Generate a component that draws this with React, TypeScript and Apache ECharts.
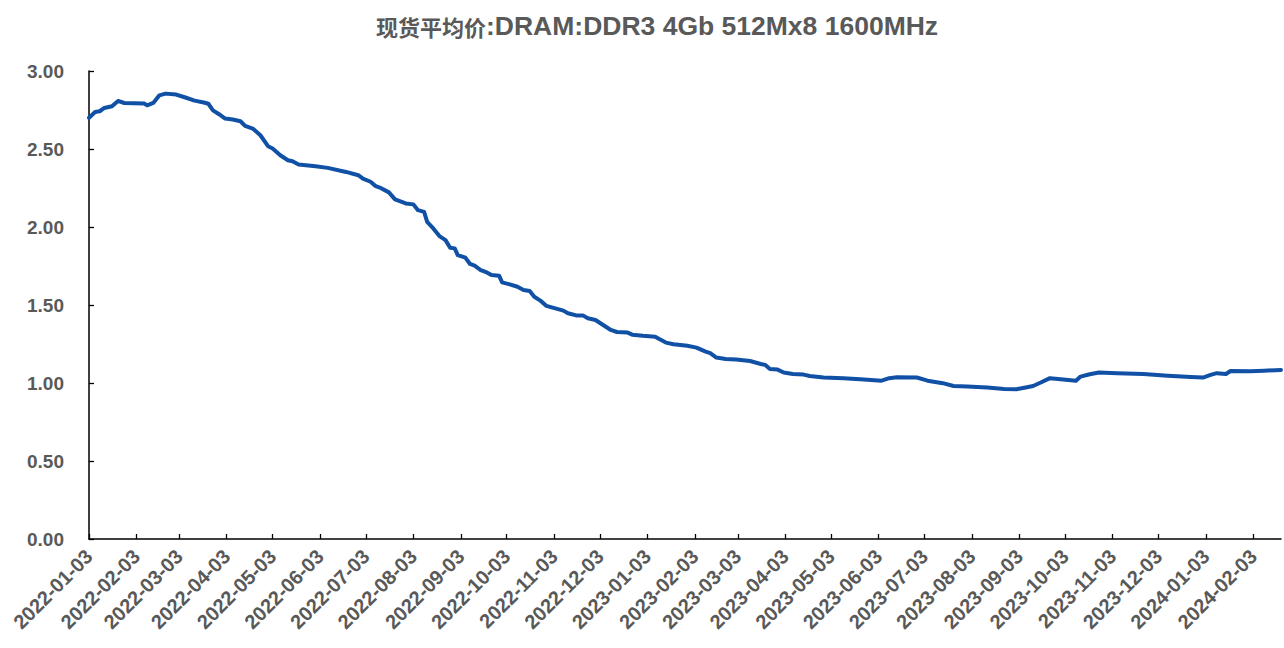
import React, { useEffect, useRef } from "react";
import * as echarts from "echarts";

const TITLE_CN = "现货平均价";
const TITLE_EN = ":DRAM:DDR3 4Gb 512Mx8 1600MHz";
const START_DATE = "2022-01-03";
const END_DATE = "2024-02-21";

const dates: string[] = [
  "2022-01-03", "2022-01-07", "2022-01-10", "2022-01-13", "2022-01-18", "2022-01-22", "2022-01-26",
  "2022-02-08", "2022-02-10", "2022-02-14", "2022-02-18", "2022-02-22", "2022-03-01", "2022-03-07",
  "2022-03-13", "2022-03-19", "2022-03-22", "2022-03-25", "2022-03-29", "2022-04-02", "2022-04-07",
  "2022-04-12", "2022-04-15", "2022-04-20", "2022-04-25", "2022-04-30", "2022-05-03", "2022-05-08",
  "2022-05-13", "2022-05-16", "2022-05-20", "2022-05-31", "2022-06-08", "2022-06-20", "2022-06-28",
  "2022-07-01", "2022-07-06", "2022-07-09", "2022-07-12", "2022-07-18", "2022-07-22", "2022-07-29",
  "2022-08-03", "2022-08-06", "2022-08-10", "2022-08-12", "2022-08-16", "2022-08-20", "2022-08-24",
  "2022-08-27", "2022-08-30", "2022-09-01", "2022-09-06", "2022-09-09", "2022-09-12", "2022-09-16",
  "2022-09-20", "2022-09-23", "2022-09-28", "2022-09-30", "2022-10-05", "2022-10-10", "2022-10-14",
  "2022-10-18", "2022-10-21", "2022-10-25", "2022-10-29", "2022-11-02", "2022-11-09", "2022-11-12",
  "2022-11-18", "2022-11-22", "2022-11-25", "2022-11-30", "2022-12-05", "2022-12-10", "2022-12-14",
  "2022-12-21", "2022-12-24", "2022-12-31", "2023-01-08", "2023-01-11", "2023-01-15", "2023-01-20",
  "2023-01-29", "2023-02-04", "2023-02-10", "2023-02-13", "2023-02-17", "2023-02-23", "2023-03-02",
  "2023-03-11", "2023-03-18", "2023-03-21", "2023-03-24", "2023-03-29", "2023-04-02", "2023-04-08",
  "2023-04-15", "2023-04-19", "2023-04-28", "2023-05-11", "2023-05-22", "2023-06-05", "2023-06-10",
  "2023-06-15", "2023-06-28", "2023-07-05", "2023-07-15", "2023-07-22", "2023-07-31", "2023-08-13",
  "2023-08-24", "2023-09-01", "2023-09-08", "2023-09-12", "2023-09-17", "2023-09-23", "2023-09-30",
  "2023-10-10", "2023-10-13", "2023-10-19", "2023-10-25", "2023-11-06", "2023-11-23", "2023-12-09",
  "2023-12-24", "2024-01-01", "2024-01-06", "2024-01-10", "2024-01-16", "2024-01-19", "2024-02-01",
  "2024-02-10", "2024-02-21",
];

const prices: number[] = [
  2.70, 2.737, 2.742, 2.763, 2.774, 2.808, 2.795,
  2.791, 2.78, 2.795, 2.844, 2.855, 2.849, 2.83,
  2.81, 2.798, 2.79, 2.748, 2.723, 2.695, 2.689,
  2.678, 2.648, 2.631, 2.588, 2.518, 2.503, 2.46,
  2.428, 2.422, 2.401, 2.39, 2.379, 2.353, 2.332,
  2.31, 2.29, 2.264, 2.253, 2.222, 2.177, 2.151,
  2.145, 2.108, 2.097, 2.033, 1.991, 1.942, 1.916,
  1.867, 1.863, 1.82, 1.803, 1.763, 1.752, 1.724,
  1.709, 1.692, 1.688, 1.645, 1.632, 1.617, 1.596,
  1.59, 1.553, 1.528, 1.494, 1.483, 1.464, 1.447,
  1.432, 1.432, 1.415, 1.404, 1.372, 1.34, 1.327,
  1.323, 1.31, 1.303, 1.297, 1.28, 1.259, 1.248,
  1.239, 1.227, 1.201, 1.191, 1.163, 1.154, 1.15,
  1.141, 1.122, 1.116, 1.09, 1.086, 1.067, 1.058,
  1.054, 1.045, 1.035, 1.031, 1.024, 1.015, 1.031,
  1.037, 1.035, 1.015, 0.999, 0.981, 0.977, 0.971,
  0.962, 0.96, 0.973, 0.981, 1.003, 1.031, 1.024,
  1.015, 1.041, 1.056, 1.067, 1.063, 1.058, 1.047,
  1.039, 1.035, 1.052, 1.063, 1.058, 1.077, 1.076,
  1.079, 1.084,
];

function buildDays(start: string, end: string): string[] {
  const out: string[] = [];
  const d = new Date(start + "T00:00:00Z");
  const e = new Date(end + "T00:00:00Z");
  while (d.getTime() <= e.getTime()) {
    out.push(d.toISOString().slice(0, 10));
    d.setUTCDate(d.getUTCDate() + 1);
  }
  return out;
}

const TEXT_COLOR = "#595959";
const FONT = "'Liberation Sans', Arial, sans-serif";

export default function App() {
  const ref = useRef<HTMLDivElement>(null);
  useEffect(() => {
    if (!ref.current) return;
    const chart = echarts.init(ref.current, undefined, { renderer: "svg" });
    const categories = buildDays(START_DATE, END_DATE);
    const isTick = (_i: number, v: string) => v.slice(8) === "03";
    chart.setOption({
      animation: false,
      backgroundColor: "#ffffff",
      title: {
        text: `{cn|${TITLE_CN}}{en|${TITLE_EN}}`,
        left: 371,
        top: 7,
        textStyle: {
          fontFamily: FONT,
          fontSize: 25,
          fontWeight: "bold",
          color: TEXT_COLOR,
          rich: {
            cn: { fontFamily: "'Noto Sans CJK SC', sans-serif", fontSize: 22, fontWeight: "bold", color: TEXT_COLOR },
            en: { fontFamily: FONT, fontSize: 26.5, fontWeight: "bold", color: TEXT_COLOR },
          },
        },
      },
      grid: { left: 89, right: 3, top: 71, bottom: 109, containLabel: false },
      xAxis: {
        type: "category",
        data: categories,
        boundaryGap: false,
        axisLine: { lineStyle: { color: "#000", width: 1.5 } },
        axisTick: { inside: true, length: 5, interval: isTick, lineStyle: { color: "#000", width: 1.3 } },
        axisLabel: {
          interval: isTick,
          rotate: 45,
          margin: 14,
          fontFamily: FONT,
          fontSize: 20,
          fontWeight: "bold",
          color: TEXT_COLOR,
        },
        splitLine: { show: false },
      },
      yAxis: {
        type: "value",
        min: 0,
        max: 3,
        interval: 0.5,
        axisLine: { show: true, lineStyle: { color: "#000", width: 1.5 } },
        axisTick: { show: true, inside: true, length: 5, lineStyle: { color: "#000", width: 1.3 } },
        axisLabel: {
          formatter: (v: number) => v.toFixed(2),
          margin: 25,
          fontFamily: FONT,
          fontSize: 19,
          fontWeight: "bold",
          color: TEXT_COLOR,
        },
        splitLine: { show: false },
      },
      series: [
        {
          type: "line",
          data: dates.map((d, i) => [d, prices[i]]),
          showSymbol: false,
          symbol: "none",
          lineStyle: { color: "#1050A5", width: 4, cap: "round", join: "round" },
        },
      ],
    });
    return () => chart.dispose();
  }, []);
  return (
    <div
      ref={ref}
      style={{ position: "fixed", left: 0, top: 0, width: 1284, height: 648, background: "#fff" }}
    />
  );
}
